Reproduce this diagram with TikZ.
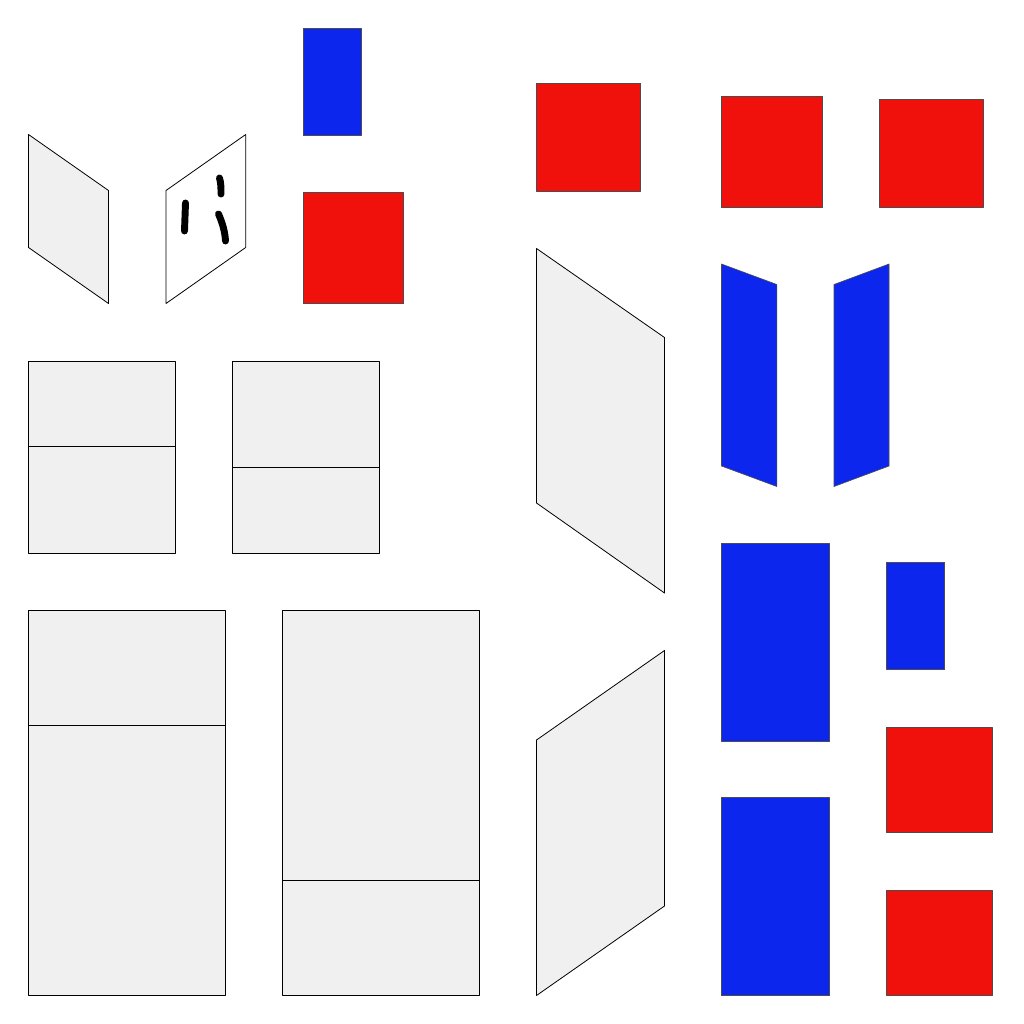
\documentclass[tikz,border=0pt]{standalone}
\definecolor{pgrey}{HTML}{F0F0F0}
\definecolor{pred}{HTML}{F0100C}
\definecolor{pblue}{HTML}{0C26EE}
\tikzset{
 x=0.75pt,y=-0.75pt,
 greyface/.style={fill=pgrey,draw=black,line width=0.6pt,line join=round},
 redface/.style={fill=pred,draw=black!70,line width=0.45pt,line join=round},
 blueface/.style={fill=pblue,draw=black!70,line width=0.45pt,line join=round},
 whiteface/.style={fill=white,draw=black,line width=0.6pt,line join=round},
 fold/.style={draw=black,line width=0.7pt},
 mark stroke/.style={draw=black,line width=5.2pt,line cap=round,line join=round}
}
\begin{document}
\begin{tikzpicture}
\useasboundingbox (0,0) rectangle (1024,1024);
\fill[white] (0,0) rectangle (1024,1024);
% top-left parallelograms
\path[greyface] (28.5,134.5) -- (108.5,190.5) -- (108.5,303.5) -- (28.5,247.5) -- cycle;
\path[whiteface] (166,190.5) -- (245.7,134.5) -- (245.7,247.5) -- (166,303.5) -- cycle;
\path[mark stroke] (185.5,203) -- (184.5,231);
\path[mark stroke] (219.5,178) .. controls (221,183) and (221,188) .. (221,194);
\path[mark stroke] (218.5,214) .. controls (222,222) and (225,231) .. (225.5,241);
% blue and red top
\path[blueface] (303,28) rectangle (361,135.5);
\path[redface] (303,192.5) rectangle (403.7,303.5);
% middle-left
\path[greyface] (28.5,361) rectangle (175,553);
\path[fold] (28.5,446.7) -- (175,446.7);
\path[greyface] (232.5,361) rectangle (379,553);
\path[fold] (232.5,467.7) -- (379,467.7);
% bottom-left
\path[greyface] (28.5,610.5) rectangle (225.5,995.5);
\path[fold] (28.5,725) -- (225.5,725);
\path[greyface] (282.5,610.5) rectangle (479.5,995.5);
\path[fold] (282.5,880.5) -- (479.5,880.5);
% tall parallelograms
\path[greyface] (536.5,248.5) -- (664.5,337.5) -- (664.5,593) -- (536.5,503) -- cycle;
\path[greyface] (536.5,740) -- (664.5,650.5) -- (664.5,906) -- (536.5,995.5) -- cycle;
% top red row
\path[redface] (536,83.5) rectangle (640.5,191);
\path[redface] (721,96) rectangle (822,207);
\path[redface] (879,99) rectangle (983,207);
% blue slanted
\path[blueface] (721.5,264) -- (776.8,284.5) -- (776.8,486.5) -- (721.5,466) -- cycle;
\path[blueface] (834,284.5) -- (889,264) -- (889,466) -- (834,486.5) -- cycle;
% blue lower
\path[blueface] (721,543.5) rectangle (829.7,741);
\path[blueface] (721,797.5) rectangle (829.7,995.5);
\path[blueface] (886.5,562) rectangle (944.7,669.5);
% red lower
\path[redface] (886.5,727) rectangle (992.3,832.5);
\path[redface] (886.5,890) rectangle (992.3,995.5);
\end{tikzpicture}
\end{document}
